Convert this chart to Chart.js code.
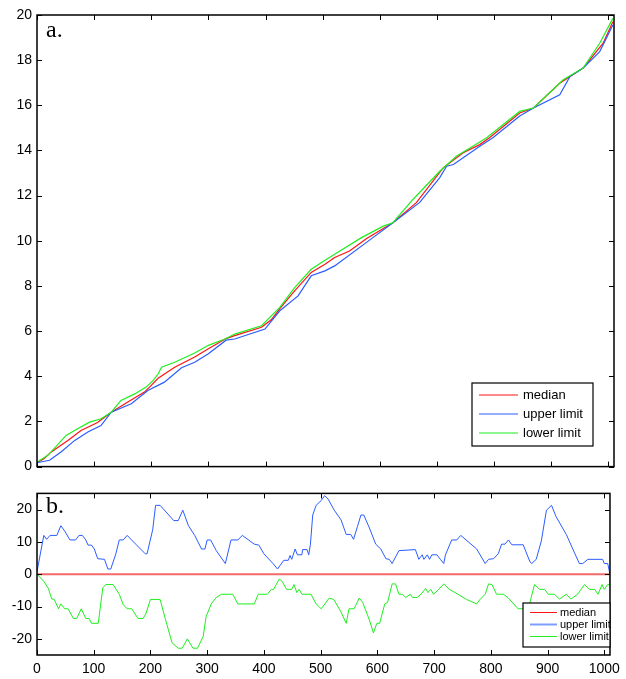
<!DOCTYPE html>
<html>
<head>
<meta charset="utf-8">
<script src="https://cdn.jsdelivr.net/npm/chart.js@4.4.1/dist/chart.umd.min.js"></script>
<style>
  html, body { margin: 0; padding: 0; background: #fff; }
  #wrapA { position: absolute; left: 0; top: 0; width: 626px; height: 480px; }
  #wrapB { position: absolute; left: 0; top: 480px; width: 626px; height: 199px; }
</style>
</head>
<body>
<div id="wrapA"><canvas id="chartA" width="626" height="480"></canvas></div>
<div id="wrapB"><canvas id="chartB" width="626" height="199"></canvas></div>
<script>
// ---- panel a: cumulative curves ----
const medianA = [[0,0.17],[12,0.35],[25,0.65],[54,1.16],[77,1.6],[106,1.95],[130,2.41],[159,2.86],[188,3.3],[200,3.6],[212,3.91],[241,4.4],[276,4.85],[300,5.22],[331,5.67],[346,5.8],[393,6.17],[410,6.5],[425,7.0],[451,7.78],[480,8.6],[504,8.96],[521,9.26],[547,9.55],[577,10.1],[623,10.8],[664,11.69],[711,13.23],[746,13.9],[775,14.26],[792,14.56],[845,15.66],[869,15.88],[915,16.98],[956,17.65],[991,18.75],[1008,19.7]];
const upperA = [[0,0.17],[22,0.28],[42,0.65],[66,1.16],[89,1.53],[112,1.82],[130,2.41],[165,2.78],[194,3.37],[223,3.74],[253,4.38],[276,4.62],[300,5.0],[331,5.6],[346,5.65],[399,6.09],[425,6.9],[457,7.56],[480,8.45],[504,8.67],[521,8.89],[588,10.14],[623,10.8],[670,11.7],[705,12.8],[717,13.3],[729,13.38],[775,14.19],[798,14.56],[845,15.53],[869,15.88],[915,16.47],[933,17.28],[956,17.65],[985,18.38],[1008,19.56]];
const lowerA = [[0,0.2],[19,0.5],[51,1.38],[71,1.68],[92,1.97],[112,2.12],[130,2.41],[147,2.93],[171,3.22],[191,3.52],[203,3.81],[212,4.1],[218,4.4],[241,4.62],[276,5.03],[300,5.37],[331,5.67],[346,5.87],[393,6.24],[425,7.05],[451,7.93],[480,8.74],[498,9.04],[521,9.4],[568,10.14],[606,10.65],[623,10.8],[658,11.83],[705,13.08],[734,13.74],[775,14.38],[787,14.56],[845,15.73],[869,15.88],[921,17.13],[956,17.65],[985,18.75],[1008,19.85]];

// ---- panel b: offsets from the median ----
const medianB = [[0,0],[1010,0]];
const upperB = [[0,0.8],[12,12],[17,10.8],[23,12],[35,12],[42,15],[49,13.3],[58,10.6],[68,10.6],[74,12],[80,12],[86,10.6],[90,9],[96,9],[101,7.8],[107,4.8],[119,4.6],[125,1.6],[130,1.6],[139,6.3],[145,10.6],[152,10.6],[159,12],[174,9.3],[191,6.3],[194,6.3],[204,13.8],[209,21.3],[217,21.3],[241,16.6],[249,16.6],[257,19.8],[267,15],[278,12],[290,7.8],[296,7.8],[300,10.6],[306,10.6],[316,7.3],[332,3.3],[342,10.6],[354,10.6],[362,12],[383,9.3],[391,9],[400,6.3],[416,3.3],[424,1.6],[435,4.3],[443,4.3],[446,5.8],[449,4.6],[455,7.8],[459,6],[467,6],[468,7.6],[476,7.6],[479,6],[482,9.3],[486,18.3],[492,21.3],[501,22.8],[507,24.3],[513,23.3],[524,19.8],[536,16.8],[545,12.3],[553,12.3],[558,10.8],[565,14.8],[571,18.3],[576,18.3],[586,14.3],[597,9.3],[606,7.8],[615,4.8],[621,4.6],[626,3.3],[638,7.3],[667,7.6],[673,4.6],[679,6],[682,4.6],[688,6],[692,4.6],[696,6],[705,6],[711,4.6],[717,3.3],[720,6],[731,10.6],[740,10.6],[747,12],[775,7.8],[790,3.3],[796,4.6],[805,4.8],[813,6.3],[819,9.3],[825,9.3],[831,10.6],[837,9.1],[857,9.1],[869,3.8],[872,3.3],[880,4.6],[889,10.3],[898,19.8],[907,21.3],[915,17.8],[933,12.3],[947,6.8],[956,3.3],[962,3.3],[971,4.6],[997,4.6],[1000,3.3],[1006,3.3],[1010,0]];
const lowerB = [[0,0],[12,-2.2],[20,-4.4],[26,-7.7],[30,-7.7],[38,-10.7],[42,-9.2],[49,-10.7],[55,-10.7],[64,-13.7],[70,-13.7],[78,-10.7],[86,-13.7],[92,-13.7],[96,-15.2],[108,-15.2],[116,-4.2],[121,-3.2],[134,-3.2],[145,-6.2],[152,-9.4],[159,-10.7],[167,-10.7],[178,-13.7],[187,-13.7],[192,-12.2],[200,-7.8],[217,-7.8],[226,-13.7],[238,-21.2],[249,-22.9],[256,-22.9],[265,-20],[275,-22.9],[283,-22.9],[293,-19.2],[298,-13.2],[307,-9.2],[316,-7.2],[325,-6.2],[345,-6.2],[354,-9.2],[383,-9.2],[390,-6.2],[406,-6.2],[413,-4.7],[417,-4.7],[427,-1.5],[432,-2.2],[440,-4.7],[449,-4.7],[453,-3.2],[458,-5.7],[462,-4.7],[467,-6.2],[483,-6.2],[492,-9.2],[501,-10.7],[515,-7.4],[523,-7.8],[536,-11.7],[545,-15.2],[550,-10.7],[559,-10.7],[568,-7.4],[574,-8.7],[586,-14.2],[593,-18.2],[599,-15.2],[604,-15.2],[613,-9.2],[618,-8.7],[626,-3],[632,-3],[638,-6.2],[644,-6.2],[650,-7.2],[658,-6.2],[662,-7.2],[670,-7.2],[677,-6.2],[685,-4.4],[689,-5.7],[694,-4.7],[699,-6.2],[708,-4.7],[717,-3],[727,-4.7],[737,-5.7],[757,-7.8],[775,-9.2],[781,-7.8],[790,-6.2],[796,-3],[802,-3.2],[810,-6.2],[822,-6.2],[831,-7.4],[848,-10.7],[866,-10.7],[877,-3.2],[886,-4.7],[895,-4.7],[901,-6.2],[912,-6.2],[921,-7.7],[933,-6.2],[941,-7.7],[953,-6.2],[965,-3.2],[974,-4.7],[983,-4.7],[989,-6.2],[996,-3.2],[1000,-4.7],[1006,-3.2],[1009,-3.2],[1010,0]];

// ---- axes ----
const xTicks = [0,100,200,300,400,500,600,700,800,900,1000];
const yTicksA = [0,2,4,6,8,10,12,14,16,18,20];
const yTicksB = [-20,-10,0,10,20];
const seriesNames = ['median', 'upper limit', 'lower limit'];

const toPts = arr => arr.map(p => ({ x: p[0], y: p[1] }));

Chart.defaults.font.family = '"Liberation Sans", Arial, Helvetica, sans-serif';
Chart.defaults.color = '#000';
Chart.defaults.animation = false;

// Box frame with inward tick marks on all four sides
const framePlugin = {
  id: 'frame',
  afterDatasetsDraw(chart, args, opts) {
    const { ctx, chartArea: a, scales } = chart;
    const tl = 5;
    ctx.save();
    ctx.strokeStyle = '#000';
    ctx.lineWidth = 1;
    ctx.beginPath();
    scales.x.ticks.forEach(t => {
      const px = Math.round(scales.x.getPixelForValue(t.value)) + 0.5;
      ctx.moveTo(px, a.bottom); ctx.lineTo(px, a.bottom - tl);
      ctx.moveTo(px, a.top); ctx.lineTo(px, a.top + tl);
    });
    scales.y.ticks.forEach(t => {
      const py = Math.round(scales.y.getPixelForValue(t.value)) + 0.5;
      ctx.moveTo(a.left, py); ctx.lineTo(a.left + tl, py);
      ctx.moveTo(a.right, py); ctx.lineTo(a.right - tl, py);
    });
    ctx.stroke();
    ctx.lineWidth = 1.5;
    ctx.strokeRect(a.left, a.top, a.right - a.left, a.bottom - a.top);
    ctx.restore();
  }
};

// Boxed legend inside the plot, plus the panel letter
const boxLegendPlugin = {
  id: 'boxLegend',
  afterDraw(chart, args, o) {
    const { ctx } = chart;
    ctx.save();
    ctx.fillStyle = '#fff';
    ctx.fillRect(o.x, o.y, o.w, o.h);
    ctx.strokeStyle = '#000';
    ctx.lineWidth = 1.2;
    ctx.strokeRect(o.x, o.y, o.w, o.h);
    ctx.font = o.fontSize + 'px "Liberation Sans", Arial, sans-serif';
    ctx.textBaseline = 'middle';
    chart.data.datasets.forEach((ds, i) => {
      const cy = o.y + o.firstRow + i * o.rowGap;
      ctx.strokeStyle = o.sampleColors ? o.sampleColors[i] : ds.borderColor;
      ctx.lineWidth = o.sampleWidths ? o.sampleWidths[i] : ds.borderWidth;
      ctx.beginPath();
      ctx.moveTo(o.x + o.lineStart, cy);
      ctx.lineTo(o.x + o.lineEnd, cy);
      ctx.stroke();
      ctx.fillStyle = '#000';
      ctx.fillText(ds.label, o.x + o.textStart, cy + 0.5);
    });
    ctx.restore();
  }
};

const panelTagPlugin = {
  id: 'panelTag',
  afterDraw(chart, args, o) {
    const { ctx, chartArea: a } = chart;
    ctx.save();
    ctx.font = o.size + 'px "Liberation Serif", "Times New Roman", serif';
    ctx.fillStyle = '#000';
    ctx.textBaseline = 'alphabetic';
    ctx.fillText(o.text, a.left + o.dx, a.top + o.dy);
    ctx.restore();
  }
};

function baseScales(yTicks, yMin, yMax, showX, xHeight) {
  return {
    x: {
      type: 'linear', min: 0, max: 1010,
      afterBuildTicks: s => { s.ticks = xTicks.map(v => ({ value: v })); },
      afterFit: s => { s.height = xHeight; },
      grid: { display: false, drawTicks: false },
      border: { display: false },
      ticks: { display: showX, autoSkip: false, maxRotation: 0, padding: 6,
               font: { size: 14 }, callback: v => String(v) }
    },
    y: {
      type: 'linear', min: yMin, max: yMax,
      afterBuildTicks: s => { s.ticks = yTicks.map(v => ({ value: v })); },
      afterFit: s => { s.width = 37; },
      grid: { display: false, drawTicks: false },
      border: { display: false },
      ticks: { padding: 5, font: { size: 14 }, callback: v => String(v) }
    }
  };
}

const RED = '#ff1414', BLUE = '#2b5cff', GREEN = '#1fee1f';

new Chart(document.getElementById('chartA'), {
  type: 'line',
  data: {
    datasets: [
      { label: seriesNames[0], data: toPts(medianA), borderColor: RED, borderWidth: 1.2, order: 2 },
      { label: seriesNames[1], data: toPts(upperA), borderColor: BLUE, borderWidth: 1.2, order: 1 },
      { label: seriesNames[2], data: toPts(lowerA), borderColor: GREEN, borderWidth: 1.2, order: 0 }
    ]
  },
  options: {
    responsive: false,
    parsing: true,
    elements: { point: { radius: 0 }, line: { tension: 0 } },
    layout: { padding: { left: 0, top: 15, right: 12, bottom: 12 } },
    scales: baseScales(yTicksA, 0, 20, false, 0),
    plugins: {
      legend: { display: false },
      tooltip: { enabled: false },
      boxLegend: { x: 472, y: 383, w: 121, h: 63, firstRow: 12, rowGap: 19,
                   lineStart: 7, lineEnd: 46, textStart: 51, fontSize: 13 },
      panelTag: { text: 'a.', size: 24, dx: 9, dy: 22 }
    }
  },
  plugins: [framePlugin, boxLegendPlugin, panelTagPlugin]
});

new Chart(document.getElementById('chartB'), {
  type: 'line',
  data: {
    datasets: [
      { label: seriesNames[0], data: toPts(medianB), borderColor: '#f26a6a', borderWidth: 2, order: 2 },
      { label: seriesNames[1], data: toPts(upperB), borderColor: BLUE, borderWidth: 1, order: 1 },
      { label: seriesNames[2], data: toPts(lowerB), borderColor: GREEN, borderWidth: 1, order: 0 }
    ]
  },
  options: {
    responsive: false,
    elements: { point: { radius: 0 }, line: { tension: 0 } },
    layout: { padding: { left: 0, top: 10, right: 12, bottom: 0 } },
    scales: baseScales(yTicksB, -25, 25, true, 24),
    plugins: {
      legend: { display: false },
      tooltip: { enabled: false },
      boxLegend: { x: 523, y: 123, w: 87, h: 44, firstRow: 9.5, rowGap: 12,
                   lineStart: 7, lineEnd: 34, textStart: 37, fontSize: 11,
                   sampleColors: ['#ff1414', '#7f9cff', '#1fee1f'], sampleWidths: [1, 2, 1] },
      panelTag: { text: 'b.', size: 24, dx: 9, dy: 20 }
    }
  },
  plugins: [framePlugin, boxLegendPlugin, panelTagPlugin]
});
</script>
</body>
</html>
